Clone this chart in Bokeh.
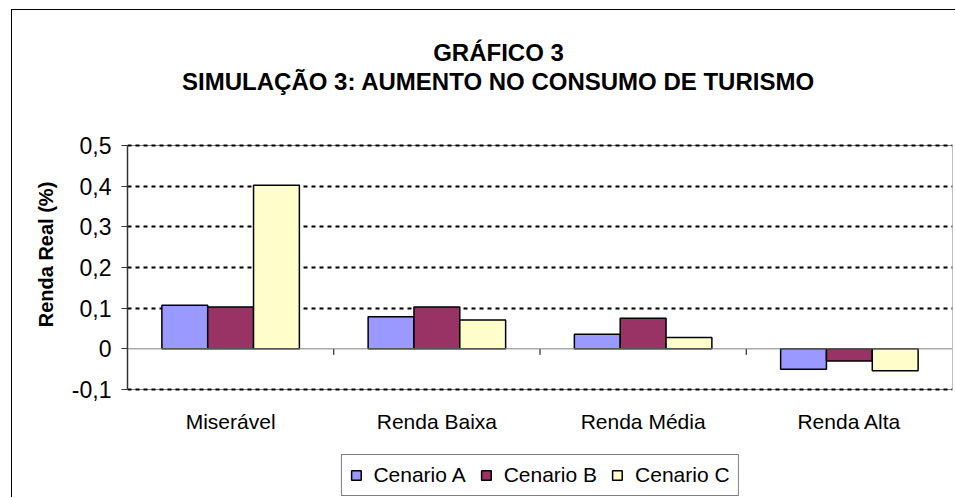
from bokeh.plotting import figure
from bokeh.models import Range1d, FixedTicker, Legend, LegendItem, Label, Span
from bokeh.embed import file_html
from bokeh.resources import INLINE

categories = ["Miserável", "Renda Baixa", "Renda Média", "Renda Alta"]
series_names = ["Cenario A", "Cenario B", "Cenario C"]
cenario_a = [0.107, 0.079, 0.036, -0.050]
cenario_b = [0.103, 0.103, 0.075, -0.030]
cenario_c = [0.402, 0.071, 0.028, -0.054]
colors = ["#9999FF", "#993366", "#FFFFCC"]
y_ticks = [-0.1, 0.0, 0.1, 0.2, 0.3, 0.4, 0.5]
y_tick_labels = ["-0,1", "0", "0,1", "0,2", "0,3", "0,4", "0,5"]
title_line1 = "GRÁFICO 3"
title_line2 = "SIMULAÇÃO 3: AUMENTO NO CONSUMO DE TURISMO"
y_label = "Renda Real (%)"

FONT = "Liberation Sans"
W, H = 944, 488
LEFT, RIGHT = 115, 4
PLOT_TOP, PLOT_H = 135, 244          # pixel position/height of the value area
y_min, y_max = y_ticks[0], y_ticks[-1]
upp = (y_max - y_min) / PLOT_H       # data units per pixel
y_range = Range1d(start=y_max - (H - PLOT_TOP) * upp, end=y_max + PLOT_TOP * upp)

p = figure(width=W, height=H, output_backend="svg", toolbar_location=None,
           x_range=Range1d(0, len(categories)), y_range=y_range,
           x_axis_location=None,
           min_border_left=LEFT, min_border_right=RIGHT, min_border_top=0,
           min_border_bottom=0)
p.title.visible = False
p.background_fill_color = "white"
p.border_fill_color = "white"
p.outline_line_color = None
p.styles = {"border-left": "1px solid #000", "border-top": "1px solid #000",
            "margin-left": "11px", "margin-top": "9px"}

# plot-area border (gray), beneath the grid
p.quad(left=[0], right=[len(categories)], bottom=[y_min], top=[y_max],
       fill_color=None, line_color="#808080", line_width=1, level="image")

n_series = len(series_names)
bw = 1 / (n_series + 1.5)
series_vals = [cenario_a, cenario_b, cenario_c]
renderers = []
for k, (vals, col) in enumerate(zip(series_vals, colors)):
    xs = [i + 0.5 + (k - (n_series - 1) / 2) * bw for i in range(len(categories))]
    r = p.vbar(x=xs, top=vals, bottom=0, width=bw, fill_color=col,
               line_color="#000000", line_width=1.5)
    renderers.append(r)

# zero line (category axis) and its tick marks at category boundaries
p.add_layout(Span(location=0, dimension="width", line_color="#808080", line_width=1))
bounds = list(range(1, len(categories)))
p.segment(x0=bounds, y0=[0] * len(bounds), x1=bounds, y1=[-6 * upp] * len(bounds),
          line_color="#000000", line_width=1)

# category labels below the value area
p.text(x=[i + 0.5 for i in range(len(categories))], y=[y_min] * len(categories),
       text=categories, y_offset=32, text_align="center", text_baseline="middle",
       text_font={"value": FONT}, text_font_size={"value": "21px"}, text_color="#000000")

# y axis
p.yaxis.bounds = (y_min, y_max)
p.yaxis.ticker = FixedTicker(ticks=y_ticks)
p.yaxis.major_label_overrides = {t: l for t, l in zip(y_ticks, y_tick_labels)}
p.yaxis.axis_line_color = "#333333"
p.yaxis.axis_line_width = 1.5
p.yaxis.major_tick_line_color = "#333333"
p.yaxis.major_tick_out = 6
p.yaxis.major_tick_in = 0
p.yaxis.minor_tick_line_color = None
p.yaxis.major_label_standoff = 10
p.yaxis.major_label_text_font = FONT
p.yaxis.major_label_text_font_size = "23px"
p.yaxis.major_label_text_color = "#000000"
p.yaxis.axis_label = y_label
p.yaxis.axis_label_text_font = FONT
p.yaxis.axis_label_text_font_style = "bold"
p.yaxis.axis_label_text_font_size = "20px"
p.yaxis.axis_label_standoff = 12
p.yaxis.axis_label_text_color = "#000000"

p.xgrid.visible = False
p.ygrid.ticker = FixedTicker(ticks=[t for t in y_ticks if t != 0])
p.ygrid.grid_line_color = "#000000"
p.ygrid.grid_line_width = 2
p.ygrid.grid_line_dash = "4 4"

# titles (screen units relative to the plot frame, from its bottom-left)
for txt, ypos in [(title_line1, H - 42), (title_line2, H - 71)]:
    p.add_layout(Label(x=371, y=ypos, x_units="screen", y_units="screen", text=txt,
                       text_align="center", text_baseline="middle", text_font=FONT,
                       text_font_style="bold", text_font_size="24px",
                       text_color="#000000"))

legend = Legend(items=[LegendItem(label=n, renderers=[r]) for n, r in zip(series_names, renderers)],
                orientation="horizontal", location="bottom_center",
                border_line_color="#000000", border_line_width=1,
                background_fill_color="white", background_fill_alpha=1,
                label_text_font=FONT, label_text_font_size="21px",
                label_text_color="#000000", glyph_width=12, glyph_height=12,
                label_standoff=12, spacing=14, padding=8, margin=2,
                label_height=22)
p.add_layout(legend, "center")

open("out.html", "w").write(file_html(p, INLINE))
